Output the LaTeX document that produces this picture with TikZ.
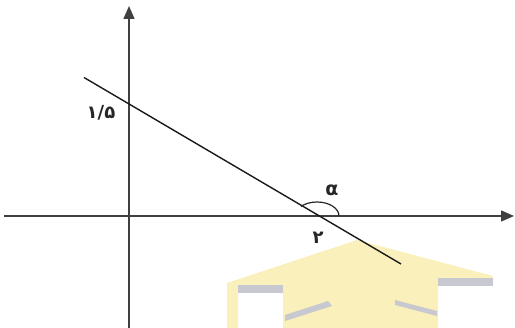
\documentclass[tikz,border=0pt]{standalone}
\usepackage{fontspec}
\newfontfamily\fa{DejaVu Sans}
\usetikzlibrary{arrows.meta}
\definecolor{axisgray}{HTML}{404040}
\definecolor{capyellow}{HTML}{FAF0BC}
\definecolor{capgray}{HTML}{C8C8D0}
\tikzset{
  axis/.style={draw=axisgray, line width=1.5pt, -{Triangle[length=13pt,width=11pt]}},
  lineL/.style={draw=black!90, line width=1.4pt},
  lbl/.style={inner sep=0pt, text=black!85},
}
\begin{document}
\begin{tikzpicture}[x=1pt,y=1pt]
\useasboundingbox (0,0) rectangle (515,328);
% watermark
\fill[capyellow] (227,45) -- (357,88) -- (493,52) -- (493,42) -- (438,42) -- (438,0) -- (283,0) -- (283,35) -- (238,35) -- (238,0) -- (227,0) -- cycle;
\fill[capgray] (238,35) rectangle (283,43);
\fill[capgray] (438,42) rectangle (493,50);
\fill[capgray] (285,13) -- (285,7) -- (332,22) -- (328,27) -- cycle;
\fill[capgray] (395,28) -- (437,17) -- (437,12) -- (395,23) -- cycle;
% coordinates
\coordinate (xs) at (4,112);
\coordinate (xe) at (514,112);
\coordinate (ys) at (129,0);
\coordinate (ye) at (129,322);
\coordinate (L1) at (84,250.5);
\coordinate (L2) at (401,64);
\coordinate (X) at (317,112);
% axes
\draw[axis] (xs) -- (xe);
\draw[axis] (ys) -- (ye);
% line
\draw[lineL] (L1) -- (L2);
% angle arc
\draw[black!85, line width=1.2pt] (X) ++(22pt,0) arc[start angle=0, end angle=137, x radius=22pt, y radius=14pt];
% labels
\node[lbl, font=\fa\bfseries\fontsize{18}{18}\selectfont] (yint) at (101,215) {۱/۵};
\node[lbl, font=\fa\bfseries\fontsize{18}{18}\selectfont] (xint) at (318,90) {۲};
\node[lbl, font=\fa\bfseries\fontsize{19}{19}\selectfont] (alpha) at (332,138) {α};
\end{tikzpicture}
\end{document}
